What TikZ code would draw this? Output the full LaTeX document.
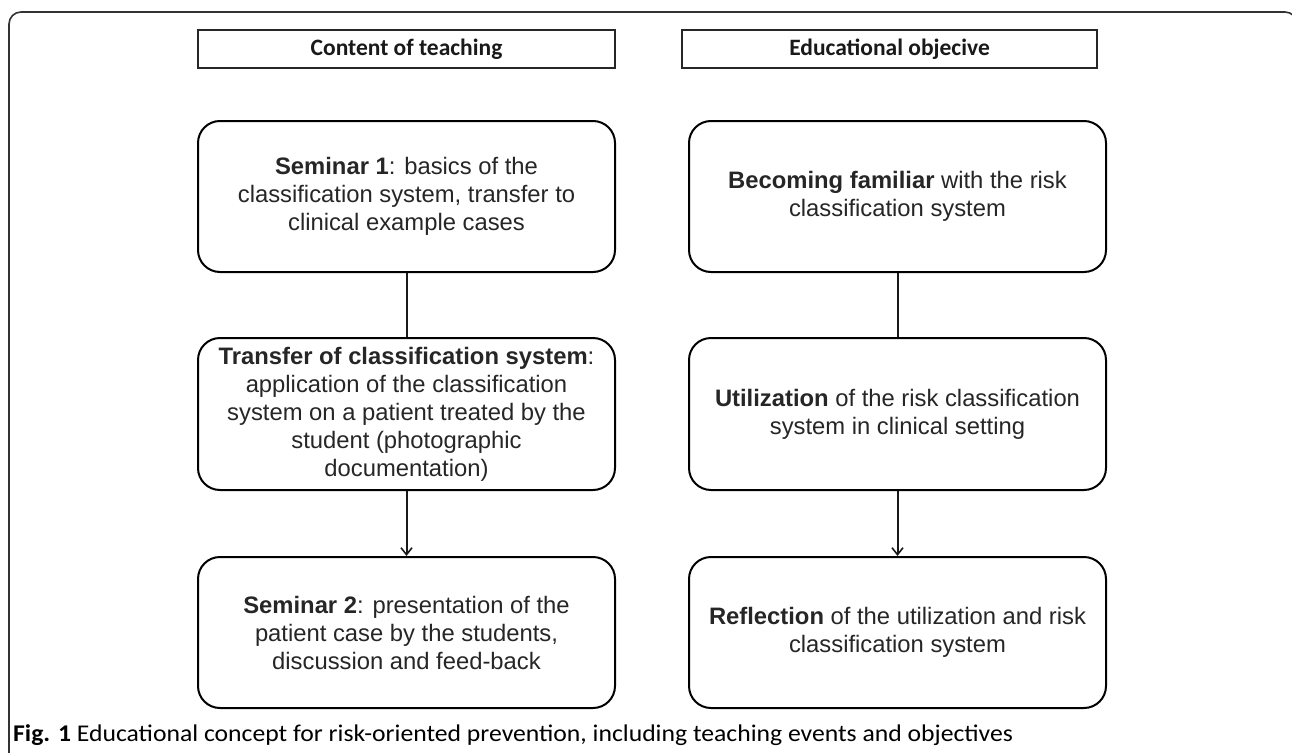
\documentclass[tikz,border=0pt]{standalone}
\usepackage{fontspec}
\setmainfont{Liberation Sans}
\newfontfamily\hdr{Carlito}
\usetikzlibrary{arrows.meta}
\definecolor{txt}{HTML}{262626}
\tikzset{
  box/.style={draw=black, line width=2pt, rounded corners=22pt, minimum width=417pt, minimum height=151pt, align=center, inner sep=2pt, text=txt, font=\fontsize{23.8}{28}\selectfont},
  hbox/.style={draw=black!85, line width=2pt, minimum height=38pt, inner sep=0pt, font=\hdr\bfseries\fontsize{23.5}{26}\selectfont, text=black!90},
  link/.style={draw=black!90, line width=2pt},
  arr/.style={link, -{Straight Barb[length=7pt,width=11pt,line width=1.6pt]}}
}
\begin{document}
\begin{tikzpicture}[x=1pt,y=-1pt]
\useasboundingbox (0,0) rectangle (1292,752);
\fill[white] (0,0) rectangle (1292,752);
\draw[black!80, line width=1.6pt, rounded corners=12pt] (9,12) rectangle (1297,790);
\node[hbox, minimum width=417pt] (h1) at (406.5,49) {Content of teaching};
\node[hbox, minimum width=415pt] (h2) at (889.5,49) {Educational objecive};
\node[box] (l1) at (406.5,196.5) {\textbf{Seminar 1}: basics of the\\classification system, transfer to\\clinical example cases};
\node[box, minimum height=152pt] (l2) at (406.5,414) {\textbf{Transfer of classification system}:\\application of the classification\\system on a patient treated by the\\student (photographic\\documentation)};
\node[box] (l3) at (406.5,632.5) {\textbf{Seminar 2}: presentation of the\\patient case by the students,\\discussion and feed-back};
\node[box] (r1) at (897.5,196.5) {\textbf{Becoming familiar} with the risk\\classification system};
\node[box, minimum height=152pt] (r2) at (897.5,414) {\textbf{Utilization} of the risk classification\\system in clinical setting};
\node[box] (r3) at (897.5,632.5) {\textbf{Reflection} of the utilization and risk\\classification system};
\draw[link] (l1) -- (l2);
\draw[arr] (l2) -- (l3);
\draw[link] (r1) -- (r2);
\draw[arr] (r2) -- (r3);
\node[anchor=base west, inner sep=0pt, font=\hdr\fontsize{24}{26}\selectfont, text=black] (cap) at (13,741) {\scalebox{1.07}[1]{\textbf{Fig. 1} Educational concept for risk-oriented prevention, including teaching events and objectives}};
\end{tikzpicture}
\end{document}
